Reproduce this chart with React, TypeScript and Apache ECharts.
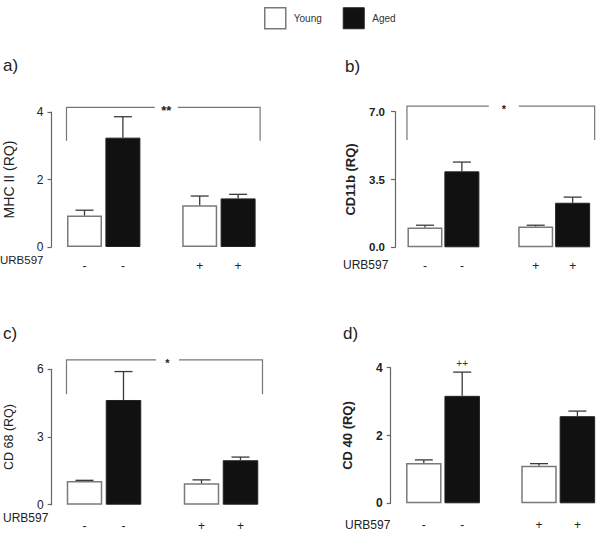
import React, { useEffect, useRef } from "react";
import * as echarts from "echarts";

// ---- data ----
const categories = ["-", "-", "", "+", "+"];
const urbLabel = "URB597";
const seriesNames = ["Young", "Aged"];

// MHC II (panel a)
const mhcYoung = [0.93, 1.24];
const mhcYoungErr = [1.09, 1.51];
const mhcAged = [3.24, 1.44];
const mhcAgedErr = [3.86, 1.56];

// CD11b (panel b)
const cd11bYoung = [1.02, 1.07];
const cd11bYoungErr = [1.14, 1.14];
const cd11bAged = [3.92, 2.3];
const cd11bAgedErr = [4.4, 2.59];

// CD 68 (panel c)
const cd68Young = [1.05, 0.95];
const cd68YoungErr = [1.08, 1.1];
const cd68Aged = [4.64, 1.97];
const cd68AgedErr = [5.9, 2.11];

// CD 40 (panel d)
const cd40Young = [1.19, 1.11];
const cd40YoungErr = [1.28, 1.17];
const cd40Aged = [3.17, 2.57];
const cd40AgedErr = [3.87, 2.72];
const cd40AgedMarks = ["++", ""];

// significance brackets: [top value, bottom value]
const bracketA = [4.14, 3.15];
const bracketB = [7.29, 5.54];
const bracketC = [6.42, 4.89];
const bracketLabels = ["**", "*", "*"];

// y-axis scales
const yMaxes = [4, 7, 6, 4];
const yIntervals = [2, 3.5, 3, 2];
const yTitles = ["MHC II (RQ)", "CD11b (RQ)", "CD 68 (RQ)", "CD 40 (RQ)"];
const panelLetters = ["a)", "b)", "c)", "d)"];

const FONT = "Liberation Sans, Arial, Helvetica, sans-serif";

export default function App() {
  const ref = useRef<HTMLDivElement>(null);

  useEffect(() => {
    document.body.style.margin = "0";
    const chart = echarts.init(ref.current!, null, { renderer: "svg" });

    const panels = [
      {
        young: mhcYoung, youngErr: mhcYoungErr, aged: mhcAged, agedErr: mhcAgedErr,
        marks: ["", ""], bracket: bracketA, bLabel: bracketLabels[0],
        grid: { left: 65.3, top: 112, width: 192, height: 135 },
        yOffset: 13.8, bold: false, titleSize: 14, nameGap: 36, labelMargin: 13,
        gapHalf: 11.5, bFont: 13, barWidth: 35,
      },
      {
        young: cd11bYoung, youngErr: cd11bYoungErr, aged: cd11bAged, agedErr: cd11bAgedErr,
        marks: ["", ""], bracket: bracketB, bLabel: bracketLabels[1],
        grid: { left: 406.5, top: 111.7, width: 184.6, height: 135.6 },
        yOffset: 11.5, bold: true, titleSize: 13, nameGap: 38, labelMargin: 13,
        gapHalf: 15, bFont: 11, barWidth: 35,
      },
      {
        young: cd68Young, youngErr: cd68YoungErr, aged: cd68Aged, agedErr: cd68AgedErr,
        marks: ["", ""], bracket: bracketC, bLabel: bracketLabels[2],
        grid: { left: 65, top: 369.3, width: 195, height: 135.4 },
        yOffset: 13.3, bold: false, titleSize: 12.5, nameGap: 36, labelMargin: 15,
        gapHalf: 11.5, bFont: 11, barWidth: 35.5,
      },
      {
        young: cd40Young, youngErr: cd40YoungErr, aged: cd40Aged, agedErr: cd40AgedErr,
        marks: cd40AgedMarks, bracket: null, bLabel: "",
        grid: { left: 404.6, top: 367.7, width: 192, height: 135.6 },
        yOffset: 13.9, bold: true, titleSize: 13, nameGap: 37, labelMargin: 16,
        gapHalf: 0, bFont: 11, barWidth: 35.5,
      },
    ];

    const grids: any[] = [];
    const xAxes: any[] = [];
    const yAxes: any[] = [];
    const series: any[] = [];

    const youngStyle = { color: "#ffffff", borderColor: "#7a7a7a", borderWidth: 1.5 };
    const agedStyle = { color: "#111111", borderColor: "#222222", borderWidth: 1 };

    panels.forEach((p, i) => {
      grids.push({ ...p.grid, containLabel: false });
      xAxes.push({
        type: "category",
        gridIndex: i,
        data: categories,
        axisLine: { show: false },
        axisTick: { show: false },
        axisLabel: {
          interval: 0,
          margin: p.labelMargin,
          fontSize: 12,
          color: "#222",
          fontFamily: FONT,
        },
      });
      yAxes.push({
        type: "value",
        gridIndex: i,
        min: 0,
        max: yMaxes[i],
        interval: yIntervals[i],
        offset: p.yOffset,
        name: yTitles[i],
        nameLocation: "middle",
        nameRotate: 90,
        nameGap: p.nameGap,
        nameTextStyle: {
          fontSize: p.titleSize,
          fontWeight: p.bold ? "bold" : "normal",
          color: "#222",
          fontFamily: FONT,
        },
        splitLine: { show: false },
        axisLine: { show: true, lineStyle: { color: "#666", width: 1.2 } },
        axisTick: { show: true, length: 4, lineStyle: { color: "#666", width: 1.2 } },
        axisLabel: {
          margin: i === 1 ? 10 : 8,
          fontSize: i === 1 ? 11.5 : 12,
          fontWeight: p.bold ? "bold" : "normal",
          color: "#222",
          fontFamily: FONT,
          formatter: (v: number) => (i === 1 ? v.toFixed(1) : String(v)),
        },
      });

      const youngData = ["-", "-", "-", "-", "-"] as any[];
      const agedData = ["-", "-", "-", "-", "-"] as any[];
      youngData[0] = p.young[0];
      youngData[3] = p.young[1];
      agedData[1] = p.aged[0];
      agedData[4] = p.aged[1];

      series.push({
        type: "bar",
        name: seriesNames[0],
        xAxisIndex: i,
        yAxisIndex: i,
        data: youngData,
        barWidth: p.barWidth,
        barGap: "-100%",
        itemStyle: youngStyle,
      });
      series.push({
        type: "bar",
        name: seriesNames[1],
        xAxisIndex: i,
        yAxisIndex: i,
        data: agedData,
        barWidth: p.barWidth,
        barGap: "-100%",
        itemStyle: agedStyle,
      });

      const errData = [
        [0, p.young[0], p.youngErr[0]],
        [1, p.aged[0], p.agedErr[0]],
        [3, p.young[1], p.youngErr[1]],
        [4, p.aged[1], p.agedErr[1]],
      ];
      const errMarks = ["", p.marks[0], "", p.marks[1]];
      series.push({
        type: "custom",
        name: "err" + i,
        xAxisIndex: i,
        yAxisIndex: i,
        data: errData,
        clip: false,
        z: 5,
        renderItem: (params: any, api: any) => {
          const x = api.value(0);
          const p0 = api.coord([x, api.value(1)]);
          const p1 = api.coord([x, api.value(2)]);
          const st = { stroke: "#3a3a3a", lineWidth: 1.3 };
          const children: any[] = [
            { type: "line", shape: { x1: p0[0], y1: p0[1], x2: p1[0], y2: p1[1] }, style: st },
            { type: "line", shape: { x1: p1[0] - 9, y1: p1[1], x2: p1[0] + 9, y2: p1[1] }, style: st },
          ];
          const mark = errMarks[params.dataIndex];
          if (mark) {
            children.push({
              type: "text",
              style: {
                text: mark,
                x: p1[0],
                y: p1[1] - 9,
                align: "center",
                verticalAlign: "middle",
                fontSize: 10,
                fill: "#333",
                fontFamily: FONT,
              },
            });
          }
          return { type: "group", children };
        },
      });

      if (p.bracket) {
        const br = p.bracket;
        series.push({
          type: "custom",
          name: "sig" + i,
          xAxisIndex: i,
          yAxisIndex: i,
          data: [[0, br[0], br[1]]],
          clip: false,
          z: 5,
          renderItem: (params: any, api: any) => {
            const top0 = api.coord([0, api.value(1)]);
            const bot0 = api.coord([0, api.value(2)]);
            const top4 = api.coord([4, api.value(1)]);
            const xl = top0[0] - 18;
            const xr = top4[0] + 22;
            const yt = top0[1];
            const yb = bot0[1];
            const mid = (xl + xr) / 2 + 3;
            const st = { stroke: "#777", lineWidth: 1.2, fill: "none" };
            return {
              type: "group",
              children: [
                {
                  type: "polyline",
                  shape: { points: [[xl, yb], [xl, yt], [mid - p.gapHalf, yt]] },
                  style: st,
                },
                {
                  type: "polyline",
                  shape: { points: [[mid + p.gapHalf, yt], [xr, yt], [xr, yb]] },
                  style: st,
                },
                {
                  type: "text",
                  style: {
                    text: p.bLabel,
                    x: mid,
                    y: yt + 3,
                    align: "center",
                    verticalAlign: "middle",
                    fontSize: p.bFont,
                    fontWeight: "bold",
                    fill: "#222",
                    fontFamily: FONT,
                  },
                },
              ],
            };
          },
        });
      }
    });

    const textStyle = (size: number) => ({ fontSize: size, fill: "#222", fontFamily: FONT });

    const graphic: any[] = [
      { type: "text", left: 3, top: 57, style: { text: panelLetters[0], ...textStyle(17) } },
      { type: "text", left: 345, top: 58, style: { text: panelLetters[1], ...textStyle(17) } },
      { type: "text", left: 3, top: 325, style: { text: panelLetters[2], ...textStyle(17) } },
      { type: "text", left: 343, top: 325, style: { text: panelLetters[3], ...textStyle(17) } },
      { type: "text", left: 0, top: 254, style: { text: urbLabel, ...textStyle(11.5) } },
      { type: "text", left: 343, top: 259, style: { text: urbLabel, ...textStyle(12) } },
      { type: "text", left: 3, top: 512, style: { text: urbLabel, ...textStyle(12) } },
      { type: "text", left: 345, top: 519, style: { text: urbLabel, ...textStyle(12) } },
    ];

    chart.setOption({
      animation: false,
      backgroundColor: "#ffffff",
      legend: {
        left: 259,
        top: 2,
        itemWidth: 21,
        itemHeight: 21,
        itemGap: 21,
        icon: "rect",
        textStyle: { fontSize: 10, color: "#333", fontFamily: FONT, padding: [0, 0, 0, 3] },
        data: [
          { name: seriesNames[0], itemStyle: youngStyle },
          { name: seriesNames[1], itemStyle: agedStyle },
        ],
        selectedMode: false,
      },
      grid: grids,
      xAxis: xAxes,
      yAxis: yAxes,
      series,
      graphic,
    });

    return () => chart.dispose();
  }, []);

  return (
    <div
      ref={ref}
      style={{ position: "fixed", left: 0, top: 0, width: 600, height: 534, background: "#fff" }}
    />
  );
}
